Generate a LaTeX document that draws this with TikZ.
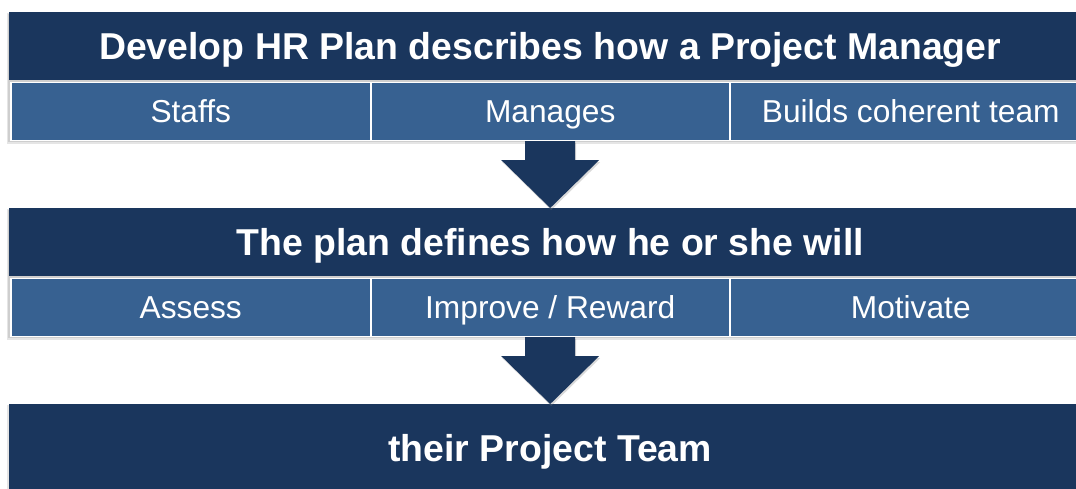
\documentclass[tikz,border=0pt]{standalone}
\usepackage{fontspec}
\setmainfont{Liberation Sans}
\usetikzlibrary{shadows}
\definecolor{navy}{RGB}{26,54,93}
\definecolor{cellblue}{RGB}{55,97,145}
\begin{document}
\begin{tikzpicture}[x=1pt,y=-1pt,
  band/.style={fill=navy, anchor=north west, inner sep=0pt, text=white,
    font=\fontsize{37.4}{40}\selectfont\bfseries, text height=26.8pt, text depth=0pt,
    minimum width=1082pt},
  cell/.style={fill=cellblue, draw=white, line width=1.5pt, anchor=north west,
    inner sep=0pt, text=white, font=\fontsize{31.7}{34}\selectfont,
    text height=22.7pt, text depth=0pt, minimum height=58pt},
  shadowbox/.style={fill=black, opacity=0.10},
  blockarrow/.style={fill=navy, drop shadow={opacity=0.3, shadow xshift=1pt, shadow yshift=-2pt}}]
\useasboundingbox (0,0) rectangle (1076,488);
% soft shadows under the two upper groups
\fill[shadowbox] (7,13) rectangle (1090,143.5);
\fill[shadowbox] (8,14) rectangle (1090,142);
\fill[shadowbox] (7,209) rectangle (1090,339.5);
\fill[shadowbox] (8,210) rectangle (1090,338);
\fill[shadowbox] (7,405) rectangle (1090,492);
% group 1
\node[band, minimum height=68pt] (b1) at (9,12) {Develop HR Plan describes how a Project Manager};
\node[cell, minimum width=360pt] (c11) at (10,81.5) {Staffs};
\node[cell, minimum width=359pt] (c12) at (370,81.5) {Manages};
\node[cell, minimum width=362pt] (c13) at (729,81.5) {Builds coherent team};
% group 2
\node[band, minimum height=68pt] (b2) at (9,208) {The plan defines how he or she will};
\node[cell, minimum width=360pt] (c21) at (10,277.5) {Assess};
\node[cell, minimum width=359pt] (c22) at (370,277.5) {Improve / Reward};
\node[cell, minimum width=362pt] (c23) at (729,277.5) {Motivate};
% group 3
\node[band, minimum height=88pt] (b3) at (9,404) {their Project Team};
% block arrows
\fill[blockarrow] (b2.north) -- ++(49,-48) -- ++(-24,0) -- ++(0,-19) -- ++(-50,0)
  -- ++(0,19) -- ++(-24,0) -- cycle;
\fill[blockarrow] (b3.north) -- ++(49,-48) -- ++(-24,0) -- ++(0,-19) -- ++(-50,0)
  -- ++(0,19) -- ++(-24,0) -- cycle;
\end{tikzpicture}
\end{document}
